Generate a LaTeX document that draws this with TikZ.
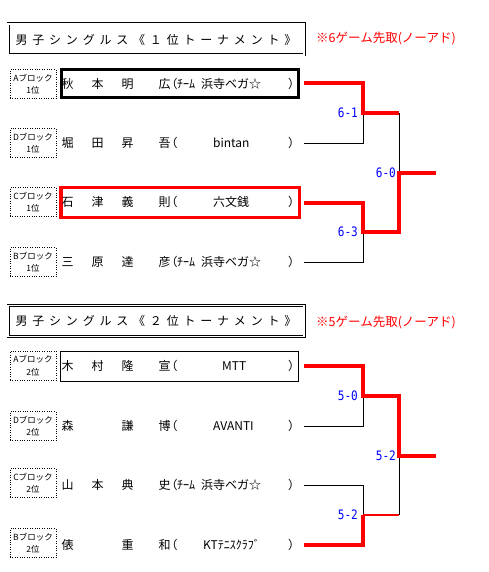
\documentclass[tikz,border=0pt]{standalone}
\usepackage{fontspec}
\setmainfont{Noto Sans CJK JP}
\newfontfamily\titlefont[LetterSpace=40]{Noto Sans CJK JP}
\newfontfamily\scorefont[FakeStretch=0.85]{DejaVu Sans Mono}
\usetikzlibrary{positioning}

\begin{document}
\begin{tikzpicture}[
    x=1pt, y=-1pt,
    titlebox/.style={draw, double=white, double distance=1.2pt, line width=0.9pt, minimum width=296pt, minimum height=31pt, inner sep=0pt, font=\titlefont\fontsize{12}{14}\selectfont},
    notetext/.style={text=red, anchor=west, inner sep=0pt, font=\fontsize{12.5}{14}\selectfont},
    block/.style={draw, dotted, minimum width=46pt, minimum height=29pt, inner sep=0pt, align=center, font=\fontsize{8.5}{12.5}\selectfont},
    entry/.style={anchor=west, inner sep=0pt, font=\fontsize{12}{14}\selectfont},
    winbox/.style={draw, minimum height=29pt, inner sep=0pt},
    score/.style={text=blue, inner sep=0pt, font=\scorefont\fontsize{13}{15}\selectfont},
    bline/.style={line width=0.8pt},
    win/.style={red, line width=3.4pt}
]
\useasboundingbox (0,0) rectangle (489,572);

% 1位トーナメント
\node[titlebox] (title1) at (156,39.5) {男子シングルス《１位トーナメント》};
\node[notetext] (note1) at (316,38) {※6ゲーム先取(ノーアド)};
\node[winbox, line width=3pt, minimum width=236.8pt, minimum height=28.5pt] (box11) at (180,83.75) {};
\node[winbox, red, line width=3.5pt, minimum width=238.3pt, minimum height=30pt] (box13) at (180.2,202.3) {};
\node[block] (blk11) at (33,84) {Aブロック\\1位};
\node[block] (blk12) at (33,143) {Dブロック\\1位};
\node[block] (blk13) at (33,202) {Cブロック\\1位};
\node[block] (blk14) at (33,262) {Bブロック\\1位};
\node[entry] (nm11) at (61.5,84) {\makebox[30pt][l]{秋}\makebox[30pt][l]{本}\makebox[37pt][l]{明}広\hspace{-5pt}（};
\node[entry] (nm12) at (61.5,143) {\makebox[30pt][l]{堀}\makebox[30pt][l]{田}\makebox[37pt][l]{昇}吾\hspace{-5pt}（};
\node[entry] (nm13) at (61.5,202) {\makebox[30pt][l]{石}\makebox[30pt][l]{津}\makebox[37pt][l]{義}則\hspace{-5pt}（};
\node[entry] (nm14) at (61.5,262) {\makebox[30pt][l]{三}\makebox[30pt][l]{原}\makebox[37pt][l]{達}彦\hspace{-5pt}（};
\node[entry] (tm11) at (177,84) {ﾁｰﾑ\hspace{6pt}浜寺ベガ☆};
\node[entry] (tm12) at (213,143) {bintan};
\node[entry] (tm13) at (213,202) {六文銭};
\node[entry] (tm14) at (177,262) {ﾁｰﾑ\hspace{6pt}浜寺ベガ☆};
\node[entry] (cp11) at (288,84) {）};
\node[entry] (cp12) at (288,143) {）};
\node[entry] (cp13) at (288,202) {）};
\node[entry] (cp14) at (288,262) {）};

\coordinate (p11) at (304,83);
\coordinate (p12) at (304,143);
\coordinate (p13) at (304,203);
\coordinate (p14) at (304,262);
\coordinate (s11) at (363,113);
\coordinate (s12) at (363,232);
\coordinate (f1) at (399,173);
\coordinate (w1) at (436,173);
\draw[bline] (p12) -| (s11);
\draw[bline] (p14) -| (s12);
\draw[bline] (s11 -| f1) -- (f1);
\draw[win] (p11) -| (s11) -- (s11 -| f1);
\draw[win] (p13) -| (s12) -| (f1) -- (w1);
\node[score, left=5pt of s11] (sc11) {6-1};
\node[score, left=5pt of s12] (sc12) {6-3};
\node[score, left=3pt of f1] (sc13) {6-0};

% 2位トーナメント
\node[titlebox] (title2) at (156,321) {男子シングルス《２位トーナメント》};
\node[notetext] (note2) at (316,322) {※5ゲーム先取(ノーアド)};
\node[winbox, line width=1pt, minimum width=238pt, minimum height=30pt] (box21) at (179.5,366) {};
\node[block] (blk21) at (33,365.5) {Aブロック\\2位};
\node[block] (blk22) at (33,426) {Dブロック\\2位};
\node[block] (blk23) at (33,483) {Cブロック\\2位};
\node[block] (blk24) at (33,543) {Bブロック\\2位};
\node[entry] (nm21) at (61.5,366) {\makebox[30pt][l]{木}\makebox[30pt][l]{村}\makebox[37pt][l]{隆}宣\hspace{-5pt}（};
\node[entry] (nm22) at (61.5,426) {\makebox[60pt][l]{森}\makebox[37pt][l]{謙}博\hspace{-5pt}（};
\node[entry] (nm23) at (61.5,485) {\makebox[30pt][l]{山}\makebox[30pt][l]{本}\makebox[37pt][l]{典}史\hspace{-5pt}（};
\node[entry] (nm24) at (61.5,545) {\makebox[60pt][l]{俵}\makebox[37pt][l]{重}和\hspace{-5pt}（};
\node[entry] (tm21) at (222,366) {MTT};
\node[entry] (tm22) at (213,426) {AVANTI};
\node[entry] (tm23) at (177,485) {ﾁｰﾑ\hspace{6pt}浜寺ベガ☆};
\node[entry] (tm24) at (203,545) {KTﾃﾆｽｸﾗﾌﾞ};
\node[entry] (cp21) at (288,366) {）};
\node[entry] (cp22) at (288,426) {）};
\node[entry] (cp23) at (288,485) {）};
\node[entry] (cp24) at (288,545) {）};

\coordinate (p21) at (304,366);
\coordinate (p22) at (304,426);
\coordinate (p23) at (304,485);
\coordinate (p24) at (304,545);
\coordinate (s21) at (363,396);
\coordinate (s22) at (363,515);
\coordinate (f2) at (399,456);
\coordinate (w2) at (436,456);
\draw[bline] (p22) -| (s21);
\draw[bline] (p23) -| (s22);
\draw[bline] (f2) -- (s22 -| f2);
\draw[win] (p21) -| (s21) -| (f2) -- (w2);
\draw[win] (p24) -| (s22);
\draw[win, line width=2.8pt] (s22) -- (s22 -| f2);
\node[score, left=5pt of s21] (sc21) {5-0};
\node[score, left=5pt of s22] (sc22) {5-2};
\node[score, left=3pt of f2] (sc23) {5-2};
\end{tikzpicture}
\end{document}
